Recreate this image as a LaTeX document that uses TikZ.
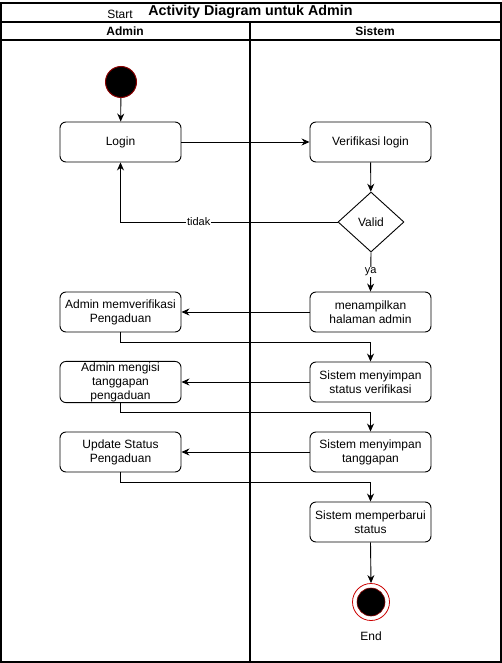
\documentclass[tikz,border=0pt]{standalone}
\usepackage{fontspec}
\setmainfont{Liberation Sans}
\usetikzlibrary{arrows.meta,shapes.geometric}
\definecolor{ringred}{HTML}{CC0000}
\definecolor{darkred}{HTML}{8B0000}
\begin{document}
\begin{tikzpicture}[x=1pt,y=-1pt,
  every node/.style={font=\fontsize{12}{14}\selectfont},
  act/.style={draw, line width=0.9pt, rounded corners=6pt, minimum width=121pt,
    minimum height=40pt, inner sep=1pt, align=center},
  flow/.style={line width=0.9pt, -{Stealth[length=8pt,width=7pt]}},
  lane/.style={line width=1.2pt},
  lbl/.style={fill=white, inner sep=1pt, font=\fontsize{11}{13}\selectfont}]
\useasboundingbox (0,0) rectangle (502,663);
% swimlane frame
\draw[lane] (1,3) rectangle (501,662);
\draw[lane] (1,22) -- (501,22);
\draw[lane] (1,40) -- (501,40);
\draw[lane] (250,22) -- (250,662);
\node[font=\bfseries\fontsize{14.3}{16}\selectfont] (title) at (250.5,11.5) {Activity Diagram untuk Admin};
\node (starttxt) at (120,14.5) {Start};
\node[font=\bfseries\fontsize{12}{14}\selectfont] (hadmin) at (125,31) {Admin};
\node[font=\bfseries\fontsize{12}{14}\selectfont] (hsistem) at (375,31) {Sistem};
% initial state
\node[circle, fill=black, draw=darkred, line width=1pt, minimum size=31pt, inner sep=0] (start) at (121,82) {};
% activities
\node[act] (login) at (120.5,142) {Login};
\node[act] (verif) at (370.5,142) {Verifikasi login};
\node[diamond, draw, line width=0.9pt, minimum width=66pt, minimum height=60pt, inner sep=0] (valid) at (371,222) {Valid};
\node[act] (tampil) at (370.5,312) {menampilkan\\halaman admin};
\node[act] (adm1) at (120.5,312) {Admin memverifikasi\\Pengaduan};
\node[act] (sis1) at (370.5,382) {Sistem menyimpan\\status verifikasi};
\node[act] (adm2) at (120.5,382) {Admin mengisi\\tanggapan\\pengaduan};
\node[act] (sis2) at (370.5,452) {Sistem menyimpan\\tanggapan};
\node[act] (adm3) at (120.5,452) {Update Status\\Pengaduan};
\node[act] (sis3) at (370.5,522) {Sistem memperbarui\\status};
% final state
\node[circle, draw=ringred, line width=0.8pt, minimum size=37pt, inner sep=0] (end) at (371,602) {};
\node[circle, fill=black, draw=ringred!70!black, line width=0.6pt, minimum size=28pt, inner sep=0] (endcore) at (end.center) {};
\node (endtxt) at (371,636) {End};
% flows
\draw[flow] (start) -- (login);
\draw[flow] (login) -- (verif);
\draw[flow] (verif) -- (valid);
\draw[flow] (valid.west) -| node[lbl, pos=0.32] {tidak} (login.south);
\draw[flow] (valid.south) -- node[lbl] {ya} (tampil.north);
\draw[flow] (tampil) -- (adm1);
\draw[flow] (adm1.south) -- ++(0,10) -| (sis1.north);
\draw[flow] (sis1) -- (adm2);
\draw[flow] (adm2.south) -- ++(0,9) -| (sis2.north);
\draw[flow] (sis2) -- (adm3);
\draw[flow] (adm3.south) -- ++(0,10) -| (sis3.north);
\draw[flow] (sis3.south) -- (end.north);
\end{tikzpicture}
\end{document}
